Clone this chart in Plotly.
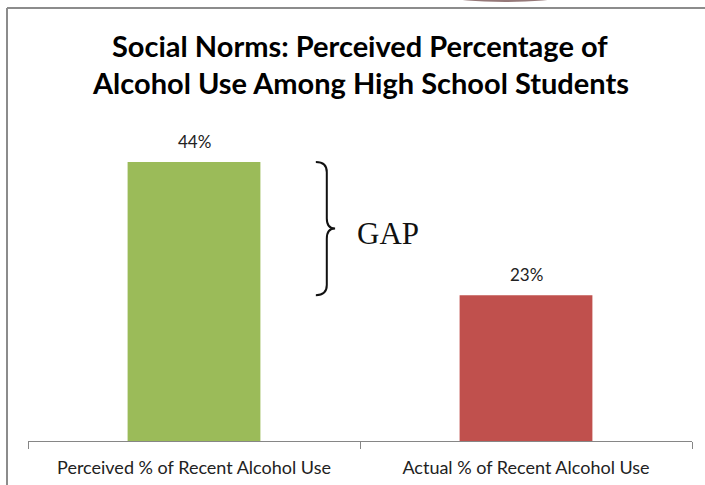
import plotly.graph_objects as go

# Chart data
categories = ["Perceived % of Recent Alcohol Use", "Actual % of Recent Alcohol Use"]
values = [0.44, 0.23]
bar_colors = ["#9BBB59", "#C0504D"]
title_lines = ["Social Norms: Perceived Percentage of", "Alcohol Use Among High School Students"]
gap_label = "GAP"

W, H = 705, 485
ML, MR, MT, MB = 28, 13, 124, 44
plot_w = W - ML - MR
plot_h = H - MT - MB

FONT = "Lato, Open Sans, sans-serif"


def px_to_paper_x(px):
    return (px - ML) / plot_w


def px_to_paper_y(py):
    return (H - MB - py) / plot_h


xs = list(range(len(categories)))

fig = go.Figure()
fig.add_trace(go.Bar(
    x=xs,
    y=values,
    width=0.4,
    marker=dict(color=bar_colors, line=dict(width=0)),
    hoverinfo="skip",
))

# value labels above each bar
for x, v in zip(xs, values):
    fig.add_annotation(
        x=x, y=v, xref="x", yref="y",
        text=f"{round(v * 100)}%",
        showarrow=False, yanchor="bottom", yshift=8,
        font=dict(family=FONT, size=17, color="#222222"),
    )

# curly brace spanning the difference between the two bars
hi, lo = values[0], values[1]
mid = (hi + lo) / 2
xa, xb, xc = 0.367, 0.400, 0.425
r = 0.016
brace = (
    f"M {xa},{hi} Q {xb},{hi} {xb},{hi - r} "
    f"L {xb},{mid + r} Q {xb},{mid} {xc},{mid} "
    f"Q {xb},{mid} {xb},{mid - r} "
    f"L {xb},{lo + r} Q {xb},{lo} {xa},{lo}"
)
fig.add_shape(type="path", path=brace, xref="x", yref="y",
              line=dict(color="#111111", width=2))

fig.add_annotation(
    x=0.585, y=mid, xref="x", yref="y", text=gap_label, showarrow=False, yshift=-5,
    font=dict(family="Liberation Serif, DejaVu Serif, serif", size=31, color="#111111"),
)

# title, one annotation per line
for i, line in enumerate(title_lines):
    fig.add_annotation(
        x=px_to_paper_x(360), y=px_to_paper_y(46 + 37 * i), xref="paper", yref="paper",
        text=f"<b>{line}</b>", showarrow=False, xanchor="center", yanchor="middle",
        font=dict(family=FONT, size=29, color="#000000"),
    )

# chart frame (top and left edges)
frame_color = "#8c8c8c"
fig.add_shape(type="line", xref="paper", yref="paper",
              x0=px_to_paper_x(7), x1=px_to_paper_x(W + 5),
              y0=px_to_paper_y(8), y1=px_to_paper_y(8),
              line=dict(color=frame_color, width=2))
fig.add_shape(type="line", xref="paper", yref="paper",
              x0=px_to_paper_x(7), x1=px_to_paper_x(7),
              y0=px_to_paper_y(8), y1=px_to_paper_y(H + 5),
              line=dict(color=frame_color, width=2))
# sliver of a shape peeking in above the frame
fig.add_shape(type="circle", xref="paper", yref="paper",
              x0=px_to_paper_x(452), x1=px_to_paper_x(558),
              y0=px_to_paper_y(2), y1=px_to_paper_y(-8),
              fillcolor="#7a5656", line=dict(width=0), opacity=0.8)

fig.update_layout(
    width=W, height=H,
    margin=dict(l=ML, r=MR, t=MT, b=MB, pad=0, autoexpand=False),
    paper_bgcolor="white", plot_bgcolor="white",
    showlegend=False,
    xaxis=dict(
        range=[-0.5, 1.5], tickmode="array", tickvals=xs, ticktext=categories,
        showline=True, linecolor="#868686", linewidth=1,
        ticks="", showgrid=False, zeroline=False, automargin=False,
        tickfont=dict(family=FONT, size=18, color="#222222"),
        ticklabelstandoff=10,
        minor=dict(ticks="outside", tickmode="array", tickvals=[-0.5, 0.5, 1.5],
                   ticklen=7, tickcolor="#868686", tickwidth=1, showgrid=False),
        fixedrange=True,
    ),
    yaxis=dict(range=[0, 0.5], visible=False, fixedrange=True, automargin=False),
)

fig.write_html("out.html")
